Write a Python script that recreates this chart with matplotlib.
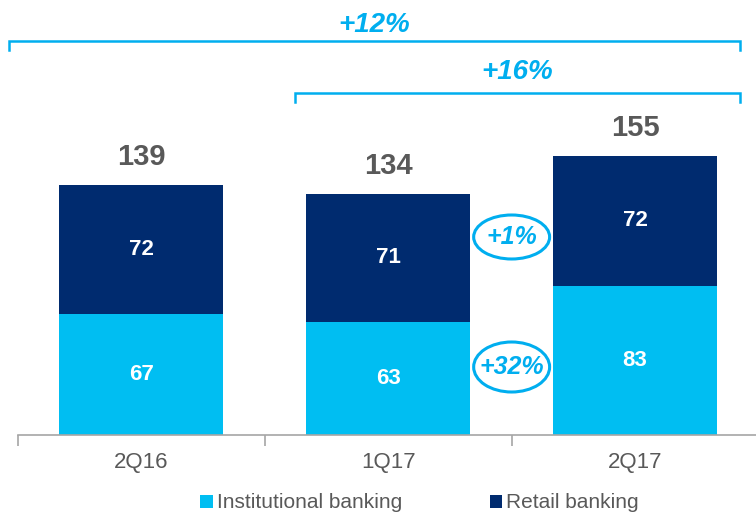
import numpy as np
import matplotlib.pyplot as plt
from matplotlib.patches import Ellipse

plt.rcParams['font.family'] = ['Liberation Sans', 'DejaVu Sans']

# data
quarters = ['2Q16', '1Q17', '2Q17']
institutional = [67, 63, 83]
retail = [72, 71, 72]
totals = [139, 134, 155]
growth_labels = ['+12%', '+16%']
qoq_labels = ['+1%', '+32%']

LIGHT = '#00BEF2'
DARK = '#002B6F'
ACCENT = '#00AEEF'
GREY = '#595959'

fig = plt.figure(figsize=(7.56, 5.14), dpi=100)
ax = fig.add_axes([18 / 756, 79 / 514, 1 - 18 / 756, 435 / 514])

x = np.arange(len(quarters))
w = 0.664
ax.bar(x, institutional, width=w, color=LIGHT, label='Institutional banking')
ax.bar(x, retail, width=w, bottom=institutional, color=DARK, label='Retail banking')

for i in range(len(quarters)):
    ax.text(x[i], institutional[i] / 2, str(institutional[i]), ha='center', va='center',
            color='white', fontsize=16, fontweight='bold')
    ax.text(x[i], institutional[i] + retail[i] / 2, str(retail[i]), ha='center', va='center',
            color='white', fontsize=16, fontweight='bold')
    ax.text(x[i], totals[i] + 7.5, str(totals[i]), ha='center', va='bottom',
            color=GREY, fontsize=21, fontweight='bold')

ax.set_xlim(-0.5, 2.49)
ax.set_ylim(0, 435 / 1.8)

# brackets
def bracket(x0, x1, y, label, ty):
    ax.plot([x0, x0, x1, x1], [y - 5, y, y, y - 5], color=ACCENT, lw=1.8,
            solid_joinstyle='miter', clip_on=False)
    ax.text((x0 + x1) / 2, ty, label, ha='center', va='center', color=ACCENT,
            fontsize=20, fontweight='bold', fontstyle='italic')

bracket(-0.538, 2.425, 218.9, growth_labels[0], 227.5)
bracket(0.623, 2.425, 190.0, growth_labels[1], 201.5)

# circled q-o-q changes
mid = 1.5
for lab, yc, hh in [(qoq_labels[0], (435 - 237) / 1.8, 44), (qoq_labels[1], (435 - 367) / 1.8, 50)]:
    ax.add_patch(Ellipse((mid, yc), 76 / 247, hh / 1.8, fill=False, ec=ACCENT, lw=2.2))
    ax.text(mid, yc, lab, ha='center', va='center', color=ACCENT, fontsize=18,
            fontweight='bold', fontstyle='italic')

# axis styling
for s in ['top', 'right', 'left']:
    ax.spines[s].set_visible(False)
ax.spines['bottom'].set_color('#A6A6A6')
ax.spines['bottom'].set_linewidth(1.2)
ax.set_yticks([])
ax.set_xticks([-0.5, 0.5, 1.5], minor=True)
ax.set_xticks(x)
ax.set_xticklabels(quarters, fontsize=16, color=GREY)
ax.tick_params(axis='x', which='major', length=0, pad=12)
ax.tick_params(axis='x', which='minor', length=8, width=1.2, color='#A6A6A6')

fig.legend(loc='center', bbox_to_anchor=(0.555, 1 - 503 / 514), ncol=2, frameon=False,
           fontsize=15, handlelength=0.6, handleheight=0.6, handletextpad=0.2,
           columnspacing=4.2, labelcolor=GREY, bbox_transform=fig.transFigure)

fig.savefig('out.png', dpi=100)
